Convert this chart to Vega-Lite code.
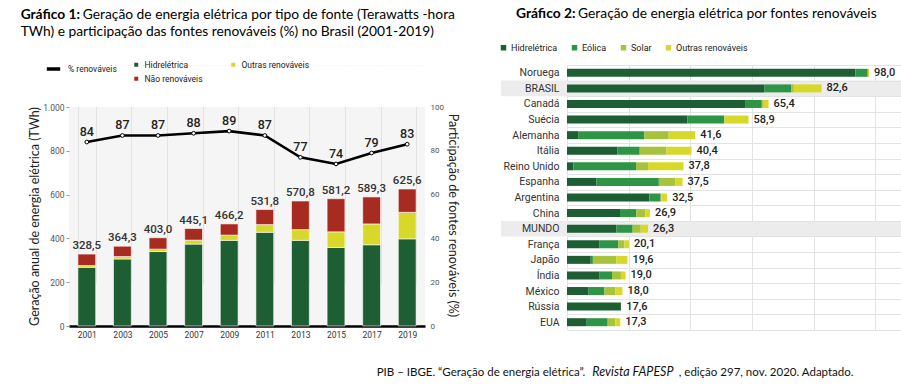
{
  "$schema": "https://vega.github.io/schema/vega-lite/v6.json",
  "background": "white",
  "padding": {"left": 20, "top": 6, "right": 0, "bottom": 0},
  "config": {
    "locale": {"number": {"decimal": ",", "thousands": ".", "grouping": [3], "currency": ["R$", ""]}},
    "font": "Roboto",
    "view": {"stroke": null},
    "concat": {"spacing": 40},
    "legend": {"zindex": 1}
  },
  "title": {
    "text": "PIB – IBGE. “Geração de energia elétrica”. \u2003\u2003\u2003\u2003\u2003\u2003\u2003\u2003\u2003\u2003\u2009\u2009\u2009, edição 297, nov. 2020. Adaptado.",
    "subtitle": "\u200b\u2003\u2003\u2003\u2003\u2003\u2003\u2003\u2003\u2003\u2003\u2003\u2003\u2003\u2003\u2003\u2003\u2003\u2003\u2003\u2003\u2003\u2003\u2003\u2003\u2003Revista FAPESP",
    "orient": "bottom",
    "anchor": "start",
    "frame": "bounds",
    "dx": 356,
    "offset": 28,
    "font": "Lato",
    "fontSize": 11.5,
    "fontWeight": "normal",
    "color": "#111",
    "subtitleFont": "Lato",
    "subtitleFontSize": 12.5,
    "subtitleFontStyle": "italic",
    "subtitleColor": "#111",
    "lineHeight": 14,
    "subtitleLineHeight": 14,
    "subtitlePadding": -12
  },
  "datasets": {
    "brasil": [
      {"ano": "2001", "Hidrelétrica": 268, "Outras renováveis": 8, "Não renováveis": 52.5, "total": 328.5, "renov": 84},
      {"ano": "2003", "Hidrelétrica": 306, "Outras renováveis": 11, "Não renováveis": 47.3, "total": 364.3, "renov": 87},
      {"ano": "2005", "Hidrelétrica": 340, "Outras renováveis": 11, "Não renováveis": 52, "total": 403.0, "renov": 87},
      {"ano": "2007", "Hidrelétrica": 374, "Outras renováveis": 18, "Não renováveis": 53.1, "total": 445.1, "renov": 88},
      {"ano": "2009", "Hidrelétrica": 391, "Outras renováveis": 24, "Não renováveis": 51.2, "total": 466.2, "renov": 89},
      {"ano": "2011", "Hidrelétrica": 428, "Outras renováveis": 35, "Não renováveis": 68.8, "total": 531.8, "renov": 87},
      {"ano": "2013", "Hidrelétrica": 391, "Outras renováveis": 49, "Não renováveis": 130.8, "total": 570.8, "renov": 77},
      {"ano": "2015", "Hidrelétrica": 359, "Outras renováveis": 71, "Não renováveis": 151.2, "total": 581.2, "renov": 74},
      {"ano": "2017", "Hidrelétrica": 371, "Outras renováveis": 95, "Não renováveis": 123.3, "total": 589.3, "renov": 79},
      {"ano": "2019", "Hidrelétrica": 398, "Outras renováveis": 121, "Não renováveis": 106.6, "total": 625.6, "renov": 83}
    ],
    "paises": [
      {"pais": "Noruega", "Hidrelétrica": 93.6, "Eólica": 4.0, "Solar": 0, "Outras renováveis": 0.4, "total": 98.0},
      {"pais": "BRASIL", "Hidrelétrica": 64.0, "Eólica": 8.7, "Solar": 0.9, "Outras renováveis": 9.0, "total": 82.6},
      {"pais": "Canadá", "Hidrelétrica": 58.0, "Eólica": 5.2, "Solar": 0.4, "Outras renováveis": 1.8, "total": 65.4},
      {"pais": "Suécia", "Hidrelétrica": 39.1, "Eólica": 11.9, "Solar": 0.1, "Outras renováveis": 7.8, "total": 58.9},
      {"pais": "Alemanha", "Hidrelétrica": 3.6, "Eólica": 21.5, "Solar": 7.9, "Outras renováveis": 8.6, "total": 41.6},
      {"pais": "Itália", "Hidrelétrica": 16.3, "Eólica": 7.3, "Solar": 8.7, "Outras renováveis": 8.1, "total": 40.4},
      {"pais": "Reino Unido", "Hidrelétrica": 2.1, "Eólica": 20.3, "Solar": 3.9, "Outras renováveis": 11.5, "total": 37.8},
      {"pais": "Espanha", "Hidrelétrica": 9.5, "Eólica": 20.3, "Solar": 5.4, "Outras renováveis": 2.3, "total": 37.5},
      {"pais": "Argentina", "Hidrelétrica": 26.7, "Eólica": 3.7, "Solar": 0.2, "Outras renováveis": 1.9, "total": 32.5},
      {"pais": "China", "Hidrelétrica": 17.2, "Eólica": 5.3, "Solar": 2.9, "Outras renováveis": 1.5, "total": 26.9},
      {"pais": "MUNDO", "Hidrelétrica": 16.0, "Eólica": 5.3, "Solar": 2.6, "Outras renováveis": 2.4, "total": 26.3},
      {"pais": "França", "Hidrelétrica": 10.6, "Eólica": 6.1, "Solar": 1.9, "Outras renováveis": 1.5, "total": 20.1},
      {"pais": "Japão", "Hidrelétrica": 7.7, "Eólica": 0.7, "Solar": 7.6, "Outras renováveis": 3.6, "total": 19.6},
      {"pais": "Índia", "Hidrelétrica": 10.6, "Eólica": 4.0, "Solar": 2.9, "Outras renováveis": 1.5, "total": 19.0},
      {"pais": "México", "Hidrelétrica": 7.0, "Eólica": 5.1, "Solar": 3.6, "Outras renováveis": 2.3, "total": 18.0},
      {"pais": "Rússia", "Hidrelétrica": 17.5, "Eólica": 0, "Solar": 0, "Outras renováveis": 0.1, "total": 17.6},
      {"pais": "EUA", "Hidrelétrica": 6.4, "Eólica": 6.8, "Solar": 2.5, "Outras renováveis": 1.6, "total": 17.3}
    ],
    "destaque": [{"pais": "BRASIL"}, {"pais": "MUNDO"}]
  },
  "columns": 2,
  "align": "none",
  "resolve": {"scale": {"color": "independent", "stroke": "independent"}, "legend": {"color": "independent", "stroke": "independent"}},
  "concat": [
    {
      "width": 356,
      "height": 261,
      "view": {"fill": "#f5f5f5", "stroke": null},
      "title": {
        "text": "Gráfico 1:",
        "subtitle": ["\u200b\u2003\u2003\u2003\u2003\u2003\u2003Geração de energia elétrica por tipo de fonte (Terawatts -hora", "TWh) e participação das fontes renováveis (%) no Brasil (2001-2019)"],
        "anchor": "start",
        "frame": "bounds",
        "dx": -8,
        "offset": 22,
        "font": "Lato",
        "fontSize": 13.8,
        "fontWeight": "bold",
        "color": "#000",
        "subtitleFont": "Lato",
        "subtitleFontSize": 13.8,
        "subtitleColor": "#000",
        "lineHeight": 17,
        "subtitleLineHeight": 17,
        "subtitlePadding": -14
      },
      "layer": [
        {
          "data": {"name": "brasil"},
          "layer": [
            {
              "data": {"values": [{}]},
              "mark": {"type": "rect", "fill": "#ffffff"},
              "encoding": {
                "y": {"datum": 1000, "type": "quantitative"},
                "y2": {"datum": 1190}
              }
            },
            {
              "transform": [
                {"fold": ["Hidrelétrica", "Outras renováveis", "Não renováveis"], "as": ["fonte", "valor"]},
                {"window": [{"op": "row_number", "as": "ordem"}], "groupby": ["ano"]}
              ],
              "mark": {"type": "bar", "stroke": "#ffffff", "strokeWidth": 0.6},
              "encoding": {
                "x": {
                  "field": "ano", "type": "nominal",
                  "scale": {"paddingInner": 0.5, "paddingOuter": 0.25},
                  "axis": {"title": null, "labelAngle": 0, "labelFontSize": 8.5, "labelColor": "#333", "labelPadding": 4, "domain": true, "domainColor": "#000", "domainWidth": 2.5, "ticks": false, "grid": true, "gridColor": "#e3e3e3", "tickBand": "extent"}
                },
                "y": {
                  "field": "valor", "type": "quantitative", "stack": "zero",
                  "scale": {"domain": [0, 1000], "nice": false, "range": [261, 42]},
                  "axis": {"title": "Geração anual de energia elétrica (TWh)", "titleFont": "Lato", "titleFontSize": 12.5, "titleFontWeight": "normal", "titleColor": "#222", "titlePadding": 1, "titleY": 151, "values": [0, 100, 200, 300, 400, 500, 600, 700, 800, 900, 1000], "format": ",d", "labelFontSize": 8.5, "labelColor": "#555", "domain": false, "tickSize": 3, "tickColor": "#999", "gridColor": "#e3e3e3"}
                },
                "order": {"field": "ordem", "type": "quantitative", "sort": "ascending"},
                "color": {
                  "field": "fonte", "type": "nominal",
                  "scale": {"domain": ["Hidrelétrica", "Outras renováveis", "Não renováveis"], "range": ["#1d5e32", "#d8d82a", "#a82b21"]},
                  "legend": {"title": null, "orient": "none", "direction": "horizontal", "legendX": 63, "legendY": -4.5, "columns": 2, "columnPadding": 24, "rowPadding": 2, "symbolType": "square", "symbolSize": 30, "labelFontSize": 8.5, "labelColor": "#222", "labelOffset": 4}
                }
              }
            },
            {
              "mark": {"type": "text", "dy": -8, "fontSize": 11.5, "fontWeight": 500, "color": "#333"},
              "encoding": {
                "x": {"field": "ano", "type": "nominal"},
                "y": {"field": "total", "type": "quantitative"},
                "text": {"field": "total", "type": "quantitative", "format": ".1f"}
              }
            }
          ]
        },
        {
          "data": {"name": "brasil"},
          "layer": [
            {
              "mark": {"type": "line", "strokeWidth": 2.6},
              "encoding": {
                "x": {"field": "ano", "type": "nominal"},
                "y": {
                  "field": "renov", "type": "quantitative",
                  "scale": {"domain": [0, 100], "nice": false, "range": [261, 42]},
                  "axis": {"orient": "right", "title": "Participação de fontes renováveis (%)", "titleFont": "Lato", "titleFontSize": 12.5, "titleFontWeight": "normal", "titleColor": "#222", "titlePadding": 2, "titleY": 150, "values": [0, 10, 20, 30, 40, 50, 60, 70, 80, 90, 100], "labelFontSize": 8, "labelColor": "#555", "domain": false, "ticks": false, "labelPadding": 5, "grid": false}
                },
                "stroke": {
                  "datum": "% renováveis",
                  "scale": {"range": ["#000000"]},
                  "legend": {"title": null, "orient": "none", "legendX": -24, "legendY": -4.5, "symbolStrokeWidth": 3.5, "symbolSize": 180, "labelFontSize": 8.5, "labelColor": "#222", "labelOffset": 6}
                }
              }
            },
            {
              "mark": {"type": "point", "filled": true, "fill": "#ffffff", "stroke": "#000", "strokeWidth": 1, "size": 14, "opacity": 1},
              "encoding": {
                "x": {"field": "ano", "type": "nominal"},
                "y": {"field": "renov", "type": "quantitative"}
              }
            },
            {
              "mark": {"type": "text", "dy": -10, "fontSize": 12.5, "fontWeight": 500, "color": "#222"},
              "encoding": {
                "x": {"field": "ano", "type": "nominal"},
                "y": {"field": "renov", "type": "quantitative"},
                "text": {"field": "renov", "type": "quantitative"}
              }
            }
          ]
        }
      ],
      "resolve": {"scale": {"y": "independent"}, "axis": {"y": "independent"}}
    },
    {
      "width": 339,
      "height": 265,
      "title": {
        "text": "Gráfico 2:",
        "subtitle": "\u200b\u2003\u2003\u2003\u2003\u2003\u2003Geração de energia elétrica por fontes renováveis",
        "anchor": "start",
        "frame": "bounds",
        "dx": 17,
        "offset": 22,
        "font": "Lato",
        "fontSize": 13.8,
        "fontWeight": "bold",
        "color": "#000",
        "subtitleFont": "Lato",
        "subtitleFontSize": 13.8,
        "subtitleColor": "#000",
        "lineHeight": 17,
        "subtitleLineHeight": 17,
        "subtitlePadding": -14
      },
      "layer": [
        {
          "data": {"name": "destaque"},
          "mark": {"type": "rect", "fill": "#ececec"},
          "encoding": {
            "y": {"field": "pais", "type": "nominal"},
            "x": {"datum": -21.4},
            "x2": {"datum": 110}
          }
        },
        {
          "data": {"name": "paises"},
          "transform": [
            {"fold": ["Hidrelétrica", "Eólica", "Solar", "Outras renováveis"], "as": ["tipo", "pct"]},
            {"window": [{"op": "row_number", "as": "ordem"}], "groupby": ["pais"]}
          ],
          "mark": {"type": "bar", "size": 8},
          "encoding": {
            "y": {
              "field": "pais", "type": "nominal",
              "scale": {"domain": ["Noruega", "BRASIL", "Canadá", "Suécia", "Alemanha", "Itália", "Reino Unido", "Espanha", "Argentina", "China", "MUNDO", "França", "Japão", "Índia", "México", "Rússia", "EUA"], "paddingInner": 0, "paddingOuter": 0},
              "axis": {"title": null, "domain": false, "ticks": false, "labelFontSize": 10.5, "labelColor": "#333", "labelPadding": 8, "grid": true, "gridColor": "#e3e3e3", "tickBand": "extent"}
            },
            "x": {
              "field": "pct", "type": "quantitative", "stack": "zero",
              "scale": {"domain": [0, 110], "nice": false},
              "axis": {"title": null, "labels": false, "ticks": false, "domain": false, "values": [0, 10, 20, 30, 40, 50, 60, 70, 80, 90, 100, 110], "grid": true, "gridColor": "#e3e3e3"}
            },
            "order": {"field": "ordem", "type": "quantitative", "sort": "ascending"},
            "color": {
              "field": "tipo", "type": "nominal",
              "scale": {"domain": ["Hidrelétrica", "Eólica", "Solar", "Outras renováveis"], "range": ["#1d5e32", "#2e9446", "#a7c23b", "#d8d82a"]},
              "legend": {"title": null, "orient": "none", "direction": "horizontal", "legendX": -68, "legendY": -22, "symbolType": "square", "symbolSize": 30, "labelFontSize": 9, "labelColor": "#222", "labelOffset": 3, "columnPadding": 12}
            }
          }
        },
        {
          "data": {"name": "paises"},
          "mark": {"type": "text", "align": "left", "dx": 5, "fontSize": 11, "fontWeight": 500, "color": "#222"},
          "encoding": {
            "y": {"field": "pais", "type": "nominal"},
            "x": {"field": "total", "type": "quantitative"},
            "text": {"field": "total", "type": "quantitative", "format": ".1f"}
          }
        }
      ]
    }
  ]
}
